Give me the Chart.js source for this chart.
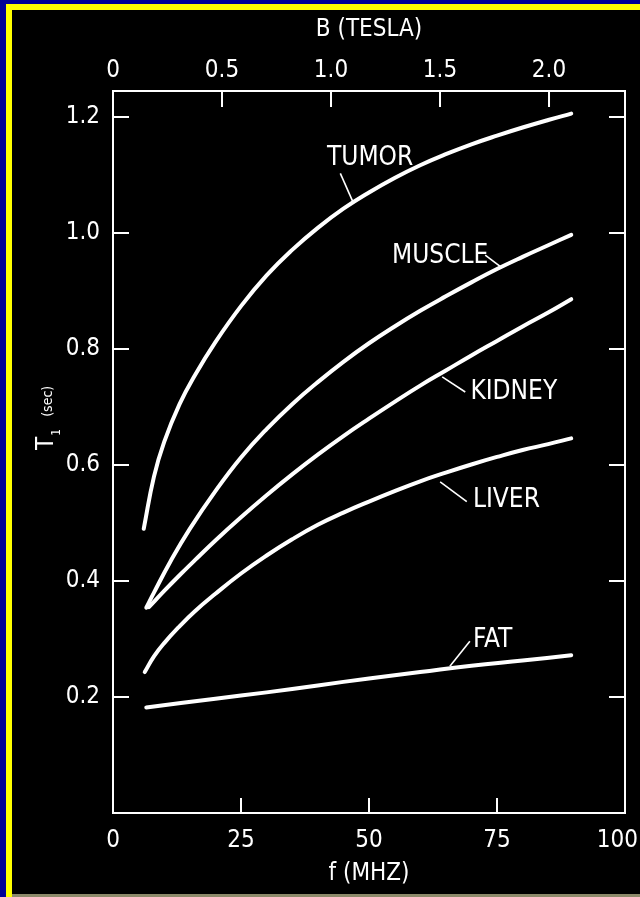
<!DOCTYPE html>
<html>
<head>
<meta charset="utf-8">
<script src="https://cdn.jsdelivr.net/npm/chart.js@4.4.1/dist/chart.umd.min.js"></script>
<style>
  html, body { margin: 0; padding: 0; }
  body { width: 640px; height: 897px; background: #000096; position: relative; overflow: hidden; }
  #rim { position: absolute; left: 6px; top: 4px; right: 0; bottom: 0; background: #ffff00; }
  #panel { position: absolute; left: 12px; top: 10px; width: 628px; height: 884px; background: #000; }
  #strip { position: absolute; left: 12px; top: 894px; width: 628px; height: 3px; background: #8c8a6a; }
  canvas { display: block; }
</style>
</head>
<body>
<div id="rim"></div>
<div id="panel"><canvas id="t1-chart" width="628" height="884"></canvas></div>
<div id="strip"></div>

<script>
// T1 relaxation time vs frequency

/* ── Data ── */
const freqTumor  = [6, 8, 10, 13, 16, 20, 25, 30, 35, 40, 45, 50, 55, 60, 65, 70, 75, 80, 85, 89.5];
const t1Tumor    = [0.49, 0.58, 0.64, 0.705, 0.755, 0.812, 0.874, 0.927, 0.971, 1.009, 1.042, 1.07, 1.095, 1.117, 1.136, 1.153, 1.168, 1.182, 1.195, 1.206];

const freqMuscle = [6.5, 8, 11.3, 15, 20, 25, 30, 35, 40, 45, 50, 55, 60, 65, 70, 75, 80, 85, 89.5];
const t1Muscle   = [0.354, 0.38, 0.435, 0.49, 0.555, 0.613, 0.662, 0.705, 0.743, 0.778, 0.81, 0.839, 0.866, 0.891, 0.915, 0.938, 0.959, 0.979, 0.997];

const freqKidney = [7, 10, 13, 16, 20, 25, 30, 35, 40, 45, 50, 55, 60, 65, 70, 75, 80, 85, 89.5];
const t1Kidney   = [0.355, 0.383, 0.41, 0.436, 0.47, 0.51, 0.548, 0.584, 0.618, 0.65, 0.68, 0.709, 0.737, 0.763, 0.789, 0.814, 0.839, 0.863, 0.886];

const freqLiver  = [6.2, 8, 10, 13, 16, 20, 25, 30, 35, 40, 45, 50, 55, 60, 65, 70, 75, 80, 85, 89.5];
const t1Liver    = [0.243, 0.27, 0.293, 0.322, 0.348, 0.378, 0.413, 0.444, 0.472, 0.497, 0.518, 0.537, 0.555, 0.572, 0.587, 0.601, 0.614, 0.626, 0.636, 0.646];

const freqFat    = [6.5, 20, 30, 40, 50, 60, 70, 80, 89.5];
const t1Fat      = [0.182, 0.197, 0.208, 0.22, 0.232, 0.243, 0.254, 0.263, 0.272];

const freqTicks  = [0, 25, 50, 75, 100];        // f (MHz), bottom
const teslaTicks = [0, 0.5, 1.0, 1.5, 2.0];      // B (T), top
const t1Ticks    = [0.2, 0.4, 0.6, 0.8, 1.0, 1.2];

const MHZ_PER_TESLA = 42.58;

// curve names with anchor (text) and pointer ends, in data units
const curveLabels = [
  { text: 'TUMOR',  at: [41.8, 1.129], from: [44.4, 1.103], to: [46.9, 1.053] },
  { text: 'MUSCLE', at: [54.5, 0.960], from: [72.7, 0.962], to: [76.0, 0.940] },
  { text: 'KIDNEY', at: [69.8, 0.726], from: [68.8, 0.726], to: [64.3, 0.752] },
  { text: 'LIVER',  at: [70.3, 0.539], from: [69.1, 0.537], to: [63.9, 0.571] },
  { text: 'FAT',    at: [70.3, 0.298], from: [69.7, 0.296], to: [65.8, 0.253] }
];

const FONT = "'DejaVu Sans Condensed', 'Liberation Sans Narrow', 'DejaVu Sans', sans-serif";
const WHITE = '#FFFFFF';

function pts(xs, ys) {
  return xs.map((x, i) => ({ x, y: ys[i] }));
}

function curve(label, xs, ys) {
  return {
    label,
    data: pts(xs, ys),
    borderColor: WHITE,
    borderWidth: 4,
    borderCapStyle: 'round',
    borderJoinStyle: 'round',
    pointRadius: 0,
    tension: 0.45,
    fill: false
  };
}

/* ── Plugin: inward tick marks, f labels, curve labels, y title ── */
const figureExtras = {
  id: 'figureExtras',
  afterDatasetsDraw(chart) {
    const ctx = chart.ctx;
    const { x, xTop, y } = chart.scales;
    const area = chart.chartArea;
    const TL = 16;

    ctx.save();
    ctx.strokeStyle = WHITE;
    ctx.lineWidth = 2;
    ctx.beginPath();
    freqTicks.slice(1, -1).forEach(v => {
      const px = x.getPixelForValue(v);
      ctx.moveTo(px, area.bottom);
      ctx.lineTo(px, area.bottom - TL + 1);
    });
    teslaTicks.slice(1).forEach(v => {
      const px = xTop.getPixelForValue(v);
      ctx.moveTo(px, area.top);
      ctx.lineTo(px, area.top + TL);
    });
    t1Ticks.forEach(v => {
      const py = y.getPixelForValue(v);
      ctx.moveTo(area.left, py);
      ctx.lineTo(area.left + TL, py);
      ctx.moveTo(area.right, py);
      ctx.lineTo(area.right - TL, py);
    });
    ctx.stroke();

    ctx.fillStyle = WHITE;

    // f tick labels (kept inside the canvas on the right)
    ctx.font = '24px ' + FONT;
    ctx.textAlign = 'center';
    ctx.textBaseline = 'middle';
    freqTicks.forEach(v => {
      const label = String(v);
      const w = ctx.measureText(label).width;
      const cx = Math.min(x.getPixelForValue(v), chart.width - w / 2 - 2);
      ctx.fillText(label, cx, area.bottom + 28);
    });

    // curve names + pointer strokes
    ctx.lineWidth = 1.6;
    ctx.font = '26px ' + FONT;
    ctx.textAlign = 'left';
    curveLabels.forEach(l => {
      ctx.fillText(l.text, x.getPixelForValue(l.at[0]), y.getPixelForValue(l.at[1]));
      ctx.beginPath();
      ctx.moveTo(x.getPixelForValue(l.from[0]), y.getPixelForValue(l.from[1]));
      ctx.lineTo(x.getPixelForValue(l.to[0]), y.getPixelForValue(l.to[1]));
      ctx.stroke();
    });

    // y title: T1 (sec), rotated
    ctx.translate(41, 440);
    ctx.rotate(-Math.PI / 2);
    ctx.textBaseline = 'alphabetic';
    ctx.font = '24px ' + FONT;
    ctx.fillText('T', 0, 0);
    const wT = ctx.measureText('T').width;
    ctx.font = '12px ' + FONT;
    ctx.fillText('1', wT + 1, 7);
    ctx.font = '14px ' + FONT;
    ctx.fillText('(sec)', wT + 20, -1);
    ctx.restore();
  }
};

/* ── Chart ── */
const tickFont = { family: FONT, size: 24 };
const noPad = s => { s.paddingLeft = 0; s.paddingRight = 0; s.paddingTop = 0; s.paddingBottom = 0; };
const axisBorder = { display: true, color: WHITE, width: 2 };
const hiddenGrid = { display: true, drawOnChartArea: false, drawTicks: false };

new Chart(document.getElementById('t1-chart'), {
  type: 'line',
  data: {
    datasets: [
      curve('TUMOR', freqTumor, t1Tumor),
      curve('MUSCLE', freqMuscle, t1Muscle),
      curve('KIDNEY', freqKidney, t1Kidney),
      curve('LIVER', freqLiver, t1Liver),
      curve('FAT', freqFat, t1Fat)
    ]
  },
  options: {
    responsive: false,
    animation: false,
    devicePixelRatio: 1,
    layout: { padding: 0 },
    plugins: {
      legend: { display: false },
      tooltip: { enabled: false }
    },
    scales: {
      x: {
        type: 'linear',
        position: 'bottom',
        min: 0,
        max: 100,
        afterBuildTicks: s => { s.ticks = freqTicks.map(v => ({ value: v })); },
        afterFit: s => { s.height = 81; noPad(s); },
        ticks: { display: false },
        grid: hiddenGrid,
        border: axisBorder,
        title: {
          display: true,
          text: 'f (MHZ)',
          color: WHITE,
          font: tickFont,
          padding: { top: 0, bottom: 6 }
        }
      },
      xTop: {
        type: 'linear',
        position: 'top',
        min: 0,
        max: 100 / MHZ_PER_TESLA,
        afterBuildTicks: s => { s.ticks = teslaTicks.map(v => ({ value: v })); },
        afterFit: s => { s.height = 81; noPad(s); },
        ticks: {
          color: WHITE,
          font: tickFont,
          padding: 6,
          maxRotation: 0,
          autoSkip: false,
          callback: v => (v === 0 ? '0' : v.toFixed(1))
        },
        grid: hiddenGrid,
        border: axisBorder,
        title: {
          display: true,
          text: 'B (TESLA)',
          color: WHITE,
          font: tickFont,
          padding: { top: 5, bottom: 0 }
        }
      },
      y: {
        type: 'linear',
        position: 'left',
        min: 0,
        max: 1.245,
        afterBuildTicks: s => { s.ticks = t1Ticks.map(v => ({ value: v })); },
        afterFit: s => { s.width = 101; noPad(s); },
        ticks: {
          color: WHITE,
          font: tickFont,
          padding: 13,
          callback: v => v.toFixed(1)
        },
        grid: hiddenGrid,
        border: axisBorder
      },
      yRight: {
        type: 'linear',
        position: 'right',
        min: 0,
        max: 1.245,
        afterFit: s => { s.width = 15; noPad(s); },
        ticks: { display: false },
        grid: hiddenGrid,
        border: axisBorder
      }
    }
  },
  plugins: [figureExtras]
});
</script>
</body>
</html>
